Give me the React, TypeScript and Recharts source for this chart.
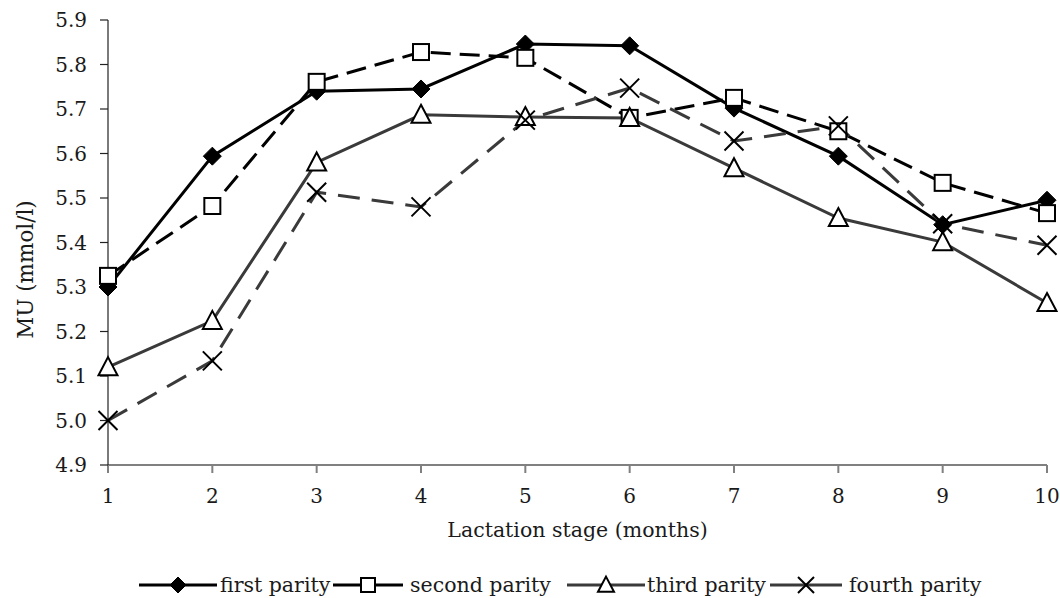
import React from 'react';
import { LineChart, Line, XAxis, YAxis, Legend, Label } from 'recharts';

const stages = [1, 2, 3, 4, 5, 6, 7, 8, 9, 10];
const firstParity = [5.30, 5.594, 5.74, 5.745, 5.846, 5.842, 5.702, 5.594, 5.44, 5.495];
const secondParity = [5.325, 5.482, 5.761, 5.828, 5.815, 5.68, 5.725, 5.65, 5.534, 5.466];
const thirdParity = [5.12, 5.224, 5.58, 5.687, 5.682, 5.68, 5.567, 5.455, 5.401, 5.264];
const fourthParity = [5.0, 5.134, 5.513, 5.48, 5.675, 5.747, 5.628, 5.662, 5.442, 5.394];
const yTicks = [4.9, 5.0, 5.1, 5.2, 5.3, 5.4, 5.5, 5.6, 5.7, 5.8, 5.9];
const seriesNames = ['first parity', 'second parity', 'third parity', 'fourth parity'];

const data = stages.map((s, i) => ({
  stage: s,
  first: firstParity[i],
  second: secondParity[i],
  third: thirdParity[i],
  fourth: fourthParity[i],
}));

const FONT = '"DejaVu Serif", "Liberation Serif", serif';
const TEXT = '#1a1a1a';

const Diamond = ({ cx, cy, size = 9 }: any) =>
  cx == null ? null : (
    <path d={`M${cx},${cy - size}L${cx + size},${cy}L${cx},${cy + size}L${cx - size},${cy}Z`} fill="#000" stroke="#000" strokeWidth={1} />
  );
const Square = ({ cx, cy, size = 8 }: any) =>
  cx == null ? null : (
    <rect x={cx - size} y={cy - size} width={size * 2} height={size * 2} fill="#fff" stroke="#000" strokeWidth={2} />
  );
const Triangle = ({ cx, cy, size = 9.5 }: any) =>
  cx == null ? null : (
    <path d={`M${cx},${cy - size * 1.05}L${cx + size},${cy + size * 0.85}L${cx - size},${cy + size * 0.85}Z`} fill="#fff" stroke="#000" strokeWidth={2} />
  );
const Cross = ({ cx, cy, size = 9.5 }: any) =>
  cx == null ? null : (
    <path d={`M${cx - size},${cy - size}L${cx + size},${cy + size}M${cx + size},${cy - size}L${cx - size},${cy + size}`} fill="none" stroke="#000" strokeWidth={2} />
  );

const legendItems = [
  { name: seriesNames[0], color: '#000', Marker: Diamond, size: 8, lineX: 139, lineW: 78, textX: 220 },
  { name: seriesNames[1], color: '#000', Marker: Square, size: 7, lineX: 333, lineW: 70, textX: 410 },
  { name: seriesNames[2], color: '#3a3a3a', Marker: Triangle, size: 8, lineX: 567, lineW: 78, textX: 647 },
  { name: seriesNames[3], color: '#3a3a3a', Marker: Cross, size: 8, lineX: 770, lineW: 72, textX: 849 },
];

const CustomLegend = () => (
  <svg width={1060} height={38} style={{ display: 'block' }}>
    {legendItems.map((it, i) => (
      <g key={i}>
        <line x1={it.lineX} y1={25} x2={it.lineX + it.lineW} y2={25} stroke={it.color} strokeWidth={3} />
        <it.Marker cx={it.lineX + it.lineW / 2} cy={25} size={it.size} />
        <text x={it.textX} y={32} fontFamily={FONT} fontSize={20.5} fill={TEXT}>{it.name}</text>
      </g>
    ))}
  </svg>
);

const XLabel = ({ viewBox }: any) => (
  <text x={viewBox.x + viewBox.width / 2} y={viewBox.y + 72} textAnchor="middle" fontFamily={FONT} fontSize={20.5} fill={TEXT}>
    Lactation stage (months)
  </text>
);

const YLabel = ({ viewBox }: any) => {
  const x = viewBox.x - 23;
  const y = viewBox.y + viewBox.height / 2 + 27;
  return (
    <text x={x} y={y} transform={`rotate(-90 ${x} ${y})`} textAnchor="middle" dominantBaseline="central" fontFamily={FONT} fontSize={21.5} fill={TEXT}>
      MU (mmol/l)
    </text>
  );
};

export default function App() {
  return (
    <div style={{ position: 'absolute', left: 0, top: 0, width: 1060, height: 598, background: '#fff' }}>
      <LineChart width={1060} height={598} data={data} margin={{ top: 20, right: 13, left: 48, bottom: 23 }}>
        <XAxis
          dataKey="stage"
          type="number"
          domain={[1, 10]}
          ticks={stages}
          stroke="#808080"
          strokeWidth={2}
          tickSize={8}
          tick={{ fill: TEXT, fontSize: 20, fontFamily: FONT }}
          tickMargin={16}
          height={70}
        >
          <Label content={<XLabel />} />
        </XAxis>
        <YAxis
          type="number"
          domain={[4.9, 5.9]}
          ticks={yTicks}
          tickFormatter={(v: number) => v.toFixed(1)}
          stroke="#222"
          strokeWidth={1.2}
          tickSize={8}
          tick={{ fill: TEXT, fontSize: 20, fontFamily: FONT }}
          tickMargin={13}
          width={60}
        >
          <Label content={<YLabel />} />
        </YAxis>
        <Legend verticalAlign="bottom" height={40} content={<CustomLegend />} wrapperStyle={{ top: 560, left: 0, width: 1060 }} />
        <Line dataKey="first" name={seriesNames[0]} stroke="#000" strokeWidth={3} dot={<Diamond />} activeDot={false} isAnimationActive={false} />
        <Line dataKey="second" name={seriesNames[1]} stroke="#000" strokeWidth={3} strokeDasharray="20 9" dot={<Square />} activeDot={false} isAnimationActive={false} />
        <Line dataKey="third" name={seriesNames[2]} stroke="#3a3a3a" strokeWidth={3} dot={<Triangle />} activeDot={false} isAnimationActive={false} />
        <Line dataKey="fourth" name={seriesNames[3]} stroke="#3a3a3a" strokeWidth={3} strokeDasharray="22 12" dot={<Cross />} activeDot={false} isAnimationActive={false} />
      </LineChart>
    </div>
  );
}
